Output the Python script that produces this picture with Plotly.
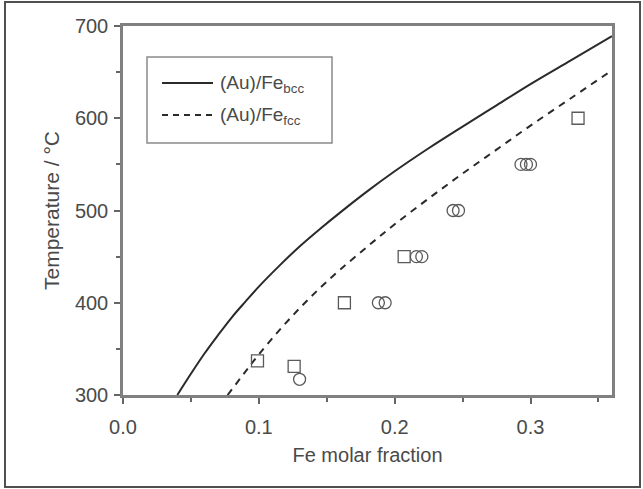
import plotly.graph_objects as go

# Calculated solvus curves
bcc_x = [0.040, 0.050, 0.060, 0.070, 0.080, 0.090, 0.100, 0.115, 0.130, 0.145, 0.160, 0.180, 0.200, 0.225, 0.250, 0.275, 0.300, 0.330, 0.360]
bcc_T = [300, 323, 345, 365, 384, 401, 417.5, 440, 461, 480, 498, 521, 542.5, 567.5, 591, 614, 637, 663, 689]

fcc_x = [0.077, 0.090, 0.100, 0.115, 0.130, 0.145, 0.160, 0.180, 0.200, 0.225, 0.250, 0.275, 0.300, 0.330, 0.360]
fcc_T = [300, 325, 344, 370, 394, 416, 436, 461, 485, 513, 540, 566, 592, 622, 652]

# Experimental points
sq_x = [0.099, 0.126, 0.163, 0.207, 0.335]
sq_T = [337, 331, 400, 450, 600]

ci_x = [0.130, 0.188, 0.193, 0.216, 0.220, 0.243, 0.247, 0.293, 0.297, 0.300]
ci_T = [317, 400, 400, 450, 450, 500, 500, 550, 550, 550]

x_ticks = [0.0, 0.1, 0.2, 0.3]
y_ticks = [300, 400, 500, 600, 700]

line_col = "#2a2a2a"
mk_col = "#5a5a5a"
txt_col = "#4a4a4a"
font = "Liberation Sans, Arial, sans-serif"

fig = go.Figure()
fig.add_trace(go.Scatter(x=bcc_x, y=bcc_T, mode="lines", line=dict(color=line_col, width=2, shape="spline"), showlegend=False))
fig.add_trace(go.Scatter(x=fcc_x, y=fcc_T, mode="lines", line=dict(color=line_col, width=2, dash="7px,6px", shape="spline"), showlegend=False))
fig.add_trace(go.Scatter(x=sq_x, y=sq_T, mode="markers",
                         marker=dict(symbol="square-open", size=12, color=mk_col, line=dict(width=1.3, color=mk_col)), showlegend=False))
fig.add_trace(go.Scatter(x=ci_x, y=ci_T, mode="markers",
                         marker=dict(symbol="circle-open", size=12, color=mk_col, line=dict(width=1.3, color=mk_col)), showlegend=False))

W, H = 643, 489
L, R, T, B = 123, 31, 26, 94
pw, ph = W - L - R, H - T - B

def px(xp):
    return (xp - L) / pw

def py(yp):
    return (H - B - yp) / ph

shapes = []
# outer border
shapes.append(dict(type="rect", xref="paper", yref="paper", x0=px(5), x1=px(640), y0=py(487), y1=py(2),
                   line=dict(color="#505050", width=2), fillcolor="rgba(0,0,0,0)", layer="below"))
# legend box
shapes.append(dict(type="rect", xref="paper", yref="paper", x0=px(147), x1=px(332), y0=py(143), y1=py(57),
                   line=dict(color="#8a8a8a", width=1.5), fillcolor="white"))
# legend samples
shapes.append(dict(type="line", xref="paper", yref="paper", x0=px(162), x1=px(213), y0=py(83), y1=py(83),
                   line=dict(color=line_col, width=2)))
shapes.append(dict(type="line", xref="paper", yref="paper", x0=px(162), x1=px(213), y0=py(115), y1=py(115),
                   line=dict(color=line_col, width=2, dash="6px,5px")))

annotations = [
    dict(xref="paper", yref="paper", x=px(218), y=py(84), xanchor="left", yanchor="middle", showarrow=False,
         text="(Au)/Fe<sub>bcc</sub>", font=dict(family=font, size=19, color=txt_col)),
    dict(xref="paper", yref="paper", x=px(218), y=py(116), xanchor="left", yanchor="middle", showarrow=False,
         text="(Au)/Fe<sub>fcc</sub>", font=dict(family=font, size=19, color=txt_col)),
]

axis_common = dict(showline=True, linecolor="#808080", linewidth=2.5, mirror=True, showgrid=False, zeroline=False,
                   ticks="outside", ticklen=6, tickwidth=1.5, tickcolor="#666666",
                   tickfont=dict(family=font, size=20, color=txt_col))

fig.update_layout(
    width=W, height=H, margin=dict(l=L, r=R, t=T, b=B),
    paper_bgcolor="white", plot_bgcolor="white",
    shapes=shapes, annotations=annotations, showlegend=False,
    xaxis=dict(range=[0, 0.36], tickvals=x_ticks, ticktext=[f"{v:.1f}" for v in x_ticks], ticklabelstandoff=6,
               minor=dict(tickvals=[0.05, 0.15, 0.25, 0.35], ticks="outside", ticklen=4, tickcolor="#666666", tickwidth=1.5),
               title=dict(text="Fe molar fraction", font=dict(family=font, size=20, color=txt_col), standoff=12),
               **axis_common),
    yaxis=dict(range=[300, 700], tickvals=y_ticks, ticklabelstandoff=2,
               minor=dict(tickvals=[350, 450, 550, 650], ticks="outside", ticklen=4, tickcolor="#666666", tickwidth=1.5),
               title=dict(text="Temperature / °C", font=dict(family=font, size=21, color=txt_col), standoff=10),
               **axis_common),
)

fig.write_html("out.html", config={"displayModeBar": False},
               post_script="document.body.style.margin='0px';")
